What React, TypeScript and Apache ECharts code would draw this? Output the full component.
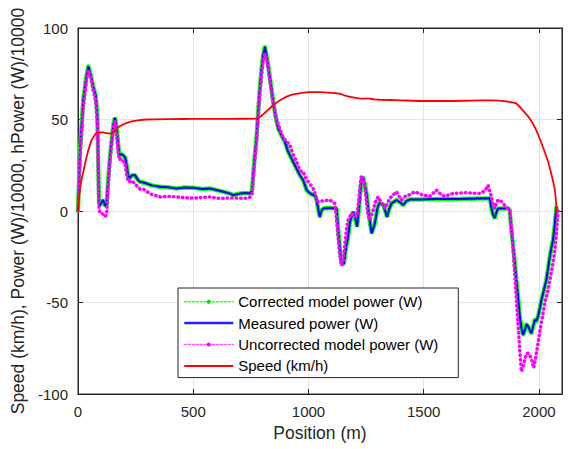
import React, { useEffect, useRef } from "react";
import * as echarts from "echarts";

const xTicks = [0, 500, 1000, 1500, 2000];
const yTicks = [-100, -50, 0, 50, 100];

const measuredPos = [0, 9, 23, 37, 45, 56, 66, 77, 84, 88, 91, 95, 103, 110, 117, 124, 130, 139, 153, 160, 166, 171, 179, 187, 196, 205, 211, 218, 225, 233, 247, 260, 269, 285, 298, 320, 356, 390, 428, 460, 500, 540, 572, 600, 630, 660, 673, 702, 730, 746, 755, 760, 767, 775, 782, 789, 796, 803, 811, 818, 825, 836, 847, 858, 869, 884, 898, 910, 919, 933, 948, 963, 977, 992, 999, 1015, 1028, 1035, 1042, 1049, 1056, 1064, 1093, 1122, 1129, 1136, 1143, 1150, 1154, 1163, 1172, 1180, 1194, 1203, 1211, 1218, 1225, 1230, 1237, 1245, 1252, 1262, 1274, 1288, 1300, 1307, 1324, 1333, 1341, 1350, 1360, 1382, 1400, 1411, 1425, 1440, 1483, 1550, 1650, 1787, 1794, 1801, 1808, 1815, 1822, 1866, 1873, 1880, 1888, 1895, 1902, 1910, 1917, 1924, 1931, 1939, 1946, 1953, 1960, 1967, 1975, 1982, 1989, 1996, 2004, 2011, 2020, 2032, 2040, 2047, 2054, 2061, 2068, 2076];
const measuredPower = [0, 34, 61, 74, 79, 74, 68, 63, 52, 25, 5, 3, 5, 6, 3, 3, 15, 30, 47, 51, 47, 41, 30.5, 31, 30.5, 29, 25, 19, 18, 19.5, 19.6, 17, 16, 15.5, 15, 14, 13.2, 13, 12.3, 12.8, 12.7, 12, 12.3, 11.5, 10.5, 9.5, 8.7, 9.5, 9.8, 9.6, 11, 19.6, 30, 41, 55, 67, 77, 85, 89.6, 85, 79.6, 70, 59.6, 51, 45, 41, 37.8, 33, 30.5, 27, 23.2, 19.5, 16.8, 11.5, 10.5, 9, 8.5, 6, 1.4, -3.1, 0, 1.4, 1.6, 1.4, -10, -20, -28.6, -29, -28.6, -20, -14, -6, -0.4, -4, -8.6, 0, 10, 16.8, 18.6, 14, 9.6, -2, -12.2, -6.8, 2, 4.1, 3.7, 0, -3.2, 1, 4.1, 6, 4.5, 3.2, 5.5, 6.3, 6.3, 6.5, 6.6, 6.9, 1.4, -2, -4, -1, 1.4, 1.4, 0.5, -10, -19.5, -28, -37.7, -48, -57.7, -64, -67.7, -65, -62, -63, -65, -66.8, -63, -59.5, -60, -57.7, -53, -48.6, -44, -37.7, -31, -25, -20, -15.9, -8, 2.3];

const correctedPos = measuredPos;
const correctedPower = [0, 34, 61, 74, 79, 74, 68, 63, 52, 25, 5, 3, 5, 6, 3, 3, 15, 30, 47, 51, 47, 41, 30.5, 31, 30.5, 29, 25, 19, 18, 19.5, 19.6, 17, 16, 15.5, 15, 14, 13.2, 13, 12.3, 12.8, 12.7, 12, 12.3, 11.5, 10.5, 9.5, 8.7, 9.5, 9.8, 9.6, 11, 19.6, 30, 41, 55, 67, 77, 85, 89.6, 85, 79.6, 70, 59.6, 51, 45, 41, 37.8, 33, 30.5, 27, 23.2, 19.5, 16.8, 11.5, 10.5, 9, 8.5, 6, 1.4, -3.1, 0, 1.4, 1.6, 1.4, -10, -20, -28.6, -29, -28.6, -20, -14, -6, -0.4, -4, -8.6, 0, 10, 16.8, 18.6, 14, 9.6, -2, -12.2, -6.8, 2, 4.1, 3.7, 0, -3.2, 1, 4.1, 6, 4.5, 3.2, 5.5, 6.3, 6.3, 6.5, 6.6, 6.9, 1.4, -2, -4, -1, 1.4, 1.4, 0.5, -10, -19.5, -28, -37.7, -48, -57.7, -64, -67.7, -65, -62, -63, -65, -66.8, -63, -59.5, -60, -57.7, -53, -48.6, -44, -37.7, -31, -25, -20, -15.9, -8, 2.3];

const uncorrectedPos = [0, 9, 23, 37, 45, 56, 66, 77, 84, 88, 91, 95, 103, 110, 117, 124, 130, 139, 153, 160, 166, 171, 179, 187, 196, 205, 211, 218, 225, 233, 247, 260, 269, 283, 300, 320, 356, 390, 428, 460, 500, 540, 572, 600, 630, 660, 702, 730, 746, 755, 760, 767, 775, 782, 789, 796, 803, 811, 818, 825, 836, 847, 861, 875, 890, 905, 919, 933, 948, 963, 977, 992, 1006, 1020, 1028, 1035, 1042, 1060, 1093, 1115, 1122, 1129, 1136, 1143, 1150, 1158, 1165, 1172, 1187, 1200, 1209, 1218, 1225, 1230, 1237, 1242, 1250, 1258, 1266, 1280, 1290, 1302, 1315, 1331, 1345, 1360, 1382, 1403, 1420, 1440, 1461, 1490, 1526, 1555, 1575, 1591, 1627, 1685, 1743, 1765, 1779, 1790, 1800, 1808, 1815, 1823, 1835, 1844, 1860, 1873, 1885, 1895, 1902, 1909, 1916, 1924, 1931, 1938, 1946, 1953, 1960, 1967, 1977, 1986, 1996, 2005, 2018, 2028, 2040, 2050, 2061, 2070, 2076, 2083];
const uncorrectedPower = [0, 30, 57, 72, 77, 73, 66, 60, 48, 20, 2, -1, -1.3, -2, -3, -2, 12, 28, 45, 49, 44, 36, 28, 28.5, 27.5, 25, 20, 16, 16, 16.5, 15, 13, 12, 12, 10.5, 9, 7.7, 8, 7.7, 7.3, 7, 7.5, 7.7, 7, 7, 7.2, 7, 7, 7.5, 9, 17, 28, 38, 52, 64, 74, 82, 86, 84, 78, 68, 59, 50.5, 45, 40, 38, 36, 31, 27, 22, 21.4, 17, 15, 12.3, 9.6, 7, 5, 5.5, 6, 4, -5, -15, -24, -29.5, -28, -18, -10, -5, -1.1, -3, -3, 5, 15, 19.6, 17, 15, 7, -2, -5, 0, 5, 7.7, 5, 1.4, 5, 8, 10.5, 6, 8, 9, 10.5, 9, 8, 11.4, 9, 8, 9.6, 10, 9.6, 11, 14, 9.6, 4, 1.4, 4, 6, 5.5, 4.1, 2, 0.5, -15, -34, -48, -61.3, -75, -87.7, -85, -81.3, -78, -77.7, -79, -80.5, -85.8, -80, -72.2, -65, -55.8, -49, -43, -36, -28.6, -20, -12, 1];

const speedPos = [0, 4, 9, 16, 23, 30, 38, 48, 59, 70, 81, 95, 110, 125, 139, 153, 168, 190, 225, 260, 298, 400, 500, 600, 700, 775, 800, 847, 880, 919, 960, 1006, 1050, 1100, 1136, 1160, 1180, 1210, 1237, 1259, 1285, 1310, 1400, 1497, 1600, 1700, 1801, 1850, 1888, 1902, 1930, 1960, 1985, 2003, 2020, 2040, 2055, 2068, 2072, 2076, 2078];
const speedVal = [0, 7, 12.4, 17.5, 21.4, 25.5, 30, 34.5, 38.7, 41, 42.8, 43, 43, 42.5, 42.3, 43, 45, 47, 48.7, 49.5, 50, 50.2, 50.3, 50.3, 50.4, 50.5, 52.5, 57.8, 60.8, 63.2, 64.3, 65, 65, 64.6, 64.1, 63, 62.3, 61.7, 61.4, 61.5, 61, 60.8, 60.5, 60.1, 60.1, 60.3, 60.5, 60, 59.2, 58.7, 55, 50.5, 45, 39.6, 34, 26.8, 19.5, 12.3, 8, 1.6, 0];

const seriesNames = [
  "Corrected model power (W)",
  "Measured power (W)",
  "Uncorrected model power (W)",
  "Speed (km/h)",
];

const zip = (xs: number[], ys: number[]) => xs.map((x, i) => [x, ys[i]]);

const FONT = "'Liberation Sans', Arial, Helvetica, sans-serif";
const AX = "#262626";

export default function App() {
  const ref = useRef<HTMLDivElement>(null);
  useEffect(() => {
    if (!ref.current) return;
    const chart = echarts.init(ref.current, undefined, { renderer: "svg" });
    const xBase = { type: "value", min: 0, max: 2100, interval: 500 };
    const yBase = { type: "value", min: -100, max: 100, interval: 50 };
    chart.setOption({
      animation: false,
      textStyle: { fontFamily: FONT },
      grid: { left: 78, right: 6, top: 28, bottom: 55, show: true, borderColor: AX, borderWidth: 1, backgroundColor: "#fff" },
      xAxis: [
        {
          ...xBase,
          position: "bottom",
          name: "Position (m)",
          nameLocation: "middle",
          nameGap: 24,
          nameTextStyle: { fontSize: 17.5, color: AX, fontFamily: FONT },
          axisLine: { show: true, onZero: false, lineStyle: { color: AX } },
          axisTick: { show: true, inside: true, length: 5, lineStyle: { color: AX } },
          axisLabel: {
            color: AX, fontSize: 15, margin: 10, fontFamily: FONT,
            formatter: (v: number) => (xTicks.includes(v) ? String(v) : ""),
          },
          splitLine: { show: true, lineStyle: { color: "#e3e3e3", width: 1 } },
        },
        {
          ...xBase,
          position: "top",
          axisLine: { show: true, onZero: false, lineStyle: { color: AX } },
          axisTick: { show: true, inside: true, length: 5, lineStyle: { color: AX } },
          axisLabel: { show: false },
          splitLine: { show: false },
        },
      ],
      yAxis: [
        {
          ...yBase,
          position: "left",
          name: "Speed (km/h), Power (W)/10000, hPower (W)/10000",
          nameLocation: "middle",
          nameRotate: 90,
          nameGap: 48,
          nameTextStyle: { fontSize: 17.5, color: AX, fontFamily: FONT },
          axisLine: { show: true, onZero: false, lineStyle: { color: AX } },
          axisTick: { show: true, inside: true, length: 5, lineStyle: { color: AX } },
          axisLabel: {
            color: AX, fontSize: 15, margin: 10, fontFamily: FONT,
            formatter: (v: number) => (yTicks.includes(v) ? String(v) : ""),
          },
          splitLine: { show: true, lineStyle: { color: "#e3e3e3", width: 1 } },
        },
        {
          ...yBase,
          position: "right",
          axisLine: { show: true, onZero: false, lineStyle: { color: AX } },
          axisTick: { show: true, inside: true, length: 5, lineStyle: { color: AX } },
          axisLabel: { show: false },
          splitLine: { show: false },
        },
      ],
      legend: {
        left: 178,
        top: 288,
        orient: "vertical",
        itemWidth: 49,
        itemHeight: 5,
        itemGap: 4,
        padding: [5, 20, 3, 5],
        backgroundColor: "#fff",
        borderColor: AX,
        borderWidth: 1,
        textStyle: { fontSize: 15, color: "#000", fontFamily: FONT, lineHeight: 17.4 },
        data: [
          { name: seriesNames[0], lineStyle: { width: 1.5, type: [2, 2], color: "#33ff33" }, itemStyle: { color: "#00dd00", borderWidth: 0 } },
          { name: seriesNames[1], lineStyle: { width: 2.5, type: "solid", color: "#1f1fff" }, itemStyle: { opacity: 0 } },
          { name: seriesNames[2], lineStyle: { width: 1.5, type: [2, 2], color: "#ff55ff" }, itemStyle: { color: "#ff00ff", borderWidth: 0 } },
          { name: seriesNames[3], lineStyle: { width: 2, type: "solid", color: "#ff0000" }, itemStyle: { opacity: 0 } },
        ],
      },
      series: [
        {
          name: seriesNames[0],
          type: "line",
          data: zip(correctedPos, correctedPower),
          symbol: "circle",
          symbolSize: 4,
          showSymbol: false,
          itemStyle: { color: "#00ff00" },
          lineStyle: { color: "#00ff00", width: 4.5, type: [1, 2], cap: "round" },
        },
        {
          name: seriesNames[1],
          type: "line",
          data: zip(measuredPos, measuredPower),
          symbol: "none",
          itemStyle: { color: "#0000ff" },
          lineStyle: { color: "#0000ff", width: 2 },
        },
        {
          name: seriesNames[2],
          type: "line",
          data: zip(uncorrectedPos, uncorrectedPower),
          symbol: "circle",
          symbolSize: 4,
          showSymbol: false,
          itemStyle: { color: "#ff00ff" },
          lineStyle: { color: "#ff00ff", width: 3.5, type: [0.5, 4], cap: "round" },
        },
        {
          name: seriesNames[3],
          type: "line",
          data: zip(speedPos, speedVal),
          symbol: "none",
          smooth: 0.2,
          itemStyle: { color: "#ff0000" },
          lineStyle: { color: "#ff0000", width: 1.8 },
        },
      ],
    });
    return () => chart.dispose();
  }, []);
  return <div ref={ref} style={{ width: 568, height: 449, position: "fixed", left: 0, top: 0, background: "#fff" }} />;
}
